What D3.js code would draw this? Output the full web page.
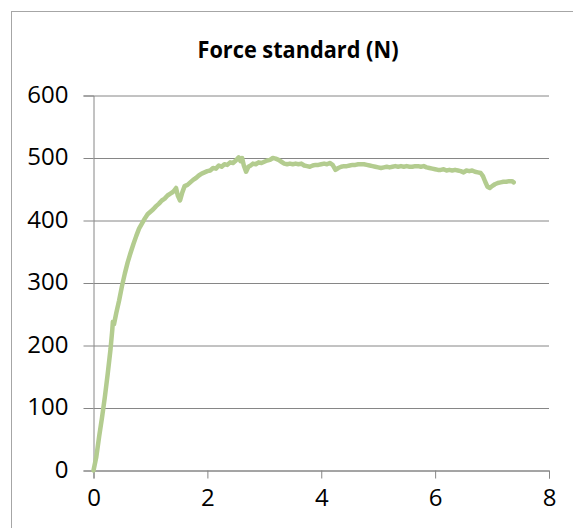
<!DOCTYPE html>
<html>
<head>
<meta charset="utf-8">
<script src="https://cdn.jsdelivr.net/npm/d3@7"></script>
<style>
  html, body { margin: 0; padding: 0; background: #ffffff; }
  svg { display: block; }
</style>
</head>
<body>
<svg id="chart" width="573" height="528"></svg>
<script>
const title = "Force standard (N)";
const xTicks = [0, 2, 4, 6, 8];
const yTicks = [0, 100, 200, 300, 400, 500, 600];

const timeValues = [
  0, 0.05, 0.1, 0.15, 0.2, 0.25, 0.3, 0.33, 0.34, 0.36, 0.4, 0.45, 0.5, 0.55, 0.6, 0.65,
  0.7, 0.75, 0.8, 0.85, 0.9, 0.95, 1.0, 1.05, 1.1, 1.15, 1.2, 1.25, 1.3, 1.35, 1.4, 1.45,
  1.48, 1.52, 1.56, 1.6, 1.65, 1.7, 1.75, 1.8, 1.85, 1.9, 1.95, 2.0, 2.05, 2.1, 2.15, 2.2,
  2.25, 2.3, 2.35, 2.4, 2.45, 2.5, 2.55, 2.58, 2.61, 2.64, 2.68, 2.72, 2.76, 2.8, 2.85, 2.9,
  2.95, 3.0, 3.05, 3.1, 3.15, 3.2, 3.25, 3.3, 3.35, 3.4, 3.45, 3.5, 3.55, 3.6, 3.65, 3.7,
  3.75, 3.8, 3.85, 3.9, 3.95, 4.0, 4.05, 4.1, 4.15, 4.2, 4.25, 4.3, 4.35, 4.4, 4.45, 4.5,
  4.55, 4.6, 4.65, 4.7, 4.75, 4.8, 4.85, 4.9, 4.95, 5.0, 5.05, 5.1, 5.15, 5.2, 5.25, 5.3,
  5.35, 5.4, 5.45, 5.5, 5.55, 5.6, 5.65, 5.7, 5.75, 5.8, 5.85, 5.9, 5.95, 6.0, 6.05, 6.1,
  6.15, 6.2, 6.25, 6.3, 6.35, 6.4, 6.45, 6.5, 6.55, 6.6, 6.65, 6.7, 6.75, 6.8, 6.84, 6.88,
  6.92, 6.96, 7.0, 7.05, 7.1, 7.15, 7.2, 7.25, 7.3, 7.35, 7.38
];
const forceValues = [
  0, 22, 55, 85, 118, 155, 195, 225, 238, 234, 252, 272, 295, 315, 333, 348,
  362, 375, 387, 395, 403, 410, 414, 418, 423, 427, 432, 435, 440, 443, 446, 452,
  440, 432, 445, 455, 457, 461, 465, 468, 472, 475, 477, 479, 480, 484, 483, 488,
  486, 490, 489, 493, 492, 496, 501, 495, 500, 488, 478, 486, 488, 491, 490, 493,
  492, 494, 496, 497, 500, 499, 497, 494, 491, 490, 491, 490, 491, 490, 491, 488,
  487, 486, 488, 489, 489, 490, 491, 490, 492, 489, 481, 484, 486, 487, 487, 488,
  489, 489, 490, 490, 490, 489, 488, 487, 486, 485, 484, 485, 486, 485, 486, 487,
  486, 487, 486, 487, 486, 486, 487, 487, 486, 487, 485, 484, 483, 482, 481, 481,
  482, 480, 481, 480, 481, 480, 479, 477, 480, 479, 480, 478, 477, 476, 471, 462,
  454, 452, 455, 458, 460, 461, 462, 462, 463, 463, 461
];

const data = timeValues.map((t, i) => ({ x: t, y: forceValues[i] }));

const svg = d3.select("#chart");
const gridColor = "#868686";

// chart border
svg.append("rect")
  .attr("x", 11.5).attr("y", 11.5)
  .attr("width", 620).attr("height", 620)
  .attr("fill", "#ffffff")
  .attr("stroke", "#a6a6a6")
  .attr("stroke-width", 1);

const x = d3.scaleLinear().domain([0, 8]).range([93.5, 549]);
const y = d3.scaleLinear().domain([0, 600]).range([470.5, 95.5]);

// horizontal gridlines + left ticks
const yAxis = d3.axisLeft(y).tickValues(yTicks).tickSize(10).tickPadding(15).tickFormat(d3.format("d"));
const gy = svg.append("g").attr("transform", "translate(93.5,0)").call(yAxis);
gy.select(".domain").attr("stroke", gridColor);
gy.selectAll(".tick line").attr("stroke", gridColor);
gy.selectAll(".tick").append("line")
  .attr("x1", 0).attr("x2", 549 - 93.5)
  .attr("stroke", gridColor).attr("stroke-width", 1);
gy.selectAll(".tick text")
  .attr("font-family", "'Open Sans', sans-serif")
  .attr("font-size", 24)
  .attr("fill", "#000000")
  .attr("dy", "0.28em");

const xAxis = d3.axisBottom(x).tickValues(xTicks).tickSize(8).tickPadding(10).tickFormat(d3.format("d"));
const gx = svg.append("g").attr("transform", "translate(0,470.5)").call(xAxis);
gx.select(".domain").attr("stroke", gridColor);
gx.selectAll(".tick line").attr("stroke", gridColor);
gx.selectAll(".tick text")
  .attr("font-family", "'Open Sans', sans-serif")
  .attr("font-size", 24)
  .attr("fill", "#000000");

// data line
const line = d3.line().x(d => x(d.x)).y(d => y(d.y));
svg.append("path")
  .datum(data)
  .attr("d", line)
  .attr("fill", "none")
  .attr("stroke", "#b3cc8f")
  .attr("stroke-width", 4.5)
  .attr("stroke-linejoin", "round")
  .attr("stroke-linecap", "round");

// title
svg.append("text")
  .attr("x", 298).attr("y", 58)
  .attr("text-anchor", "middle")
  .attr("font-family", "'Open Sans', sans-serif")
  .attr("font-weight", "bold")
  .attr("font-size", 23)
  .attr("textLength", 201)
  .attr("lengthAdjust", "spacingAndGlyphs")
  .attr("fill", "#000000")
  .text(title);
</script>
</body>
</html>
